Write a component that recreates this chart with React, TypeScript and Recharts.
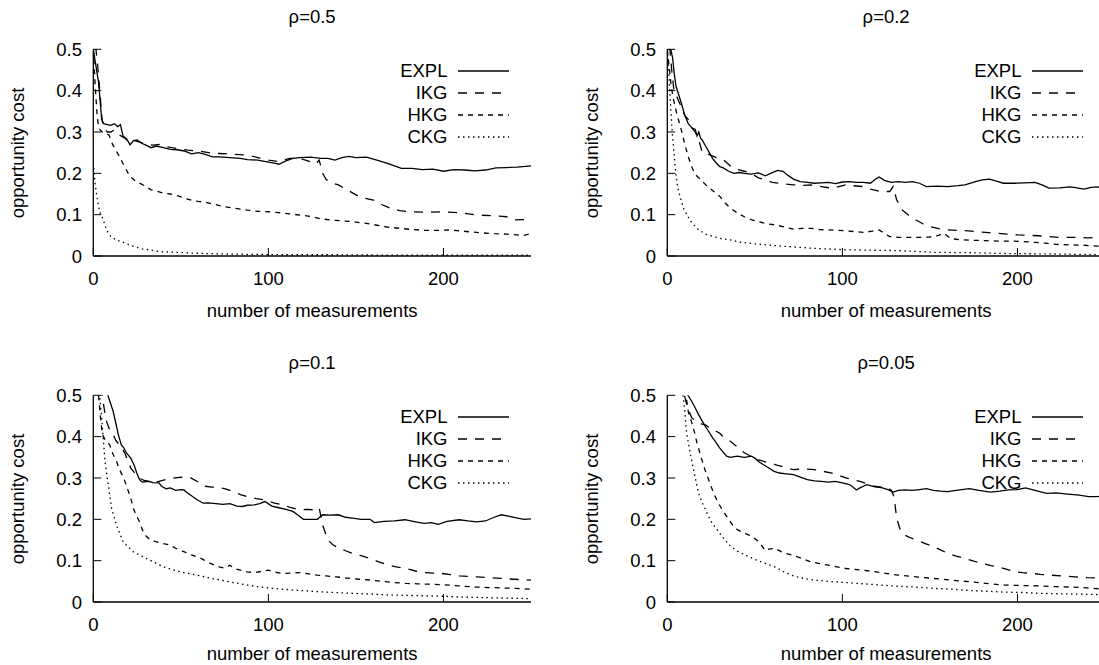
import { LineChart, Line, XAxis, YAxis, Legend } from "recharts";

const FONT = '"Liberation Sans", Arial, Helvetica, sans-serif';

const xTicks = [0, 100, 200];
const yTicks = [0, 0.1, 0.2, 0.3, 0.4, 0.5];
const seriesNames = ["EXPL", "IKG", "HKG", "CKG"];
const panelTitles = ["ρ=0.5", "ρ=0.2", "ρ=0.1", "ρ=0.05"];
const xLabel = "number of measurements";
const yLabel = "opportunity cost";

// [measurements, opportunity cost]
const rho05Expl = [[0,0.5],[1.5,0.46],[3,0.42],[4.8,0.33],[6,0.32],[8,0.318],[10,0.316],[12,0.32],[14,0.313],[15.5,0.318],[17,0.29],[19,0.283],[21,0.269],[23,0.279],[25,0.281],[28,0.272],[30,0.268],[33,0.262],[36,0.266],[40,0.262],[44,0.258],[48,0.257],[52,0.254],[56,0.247],[60,0.25],[64,0.246],[68,0.24],[72,0.24],[78,0.238],[84,0.236],[88,0.233],[94,0.232],[100,0.227],[104,0.224],[106,0.222],[110,0.23],[114,0.236],[118,0.238],[124,0.239],[130,0.236],[134,0.236],[138,0.232],[142,0.238],[146,0.241],[150,0.238],[156,0.239],[162,0.232],[168,0.224],[172,0.218],[176,0.212],[182,0.212],[188,0.209],[194,0.21],[200,0.205],[206,0.209],[212,0.208],[218,0.206],[224,0.208],[230,0.213],[236,0.214],[242,0.215],[250,0.218]];
const rho05Ikg = [[0,0.5],[1.5,0.5],[2.5,0.46],[3.8,0.395],[5,0.33],[6,0.31],[8,0.3],[10,0.3],[12,0.305],[14,0.295],[16,0.29],[18,0.285],[20,0.278],[23,0.28],[26,0.276],[30,0.27],[34,0.268],[38,0.27],[42,0.264],[48,0.26],[54,0.256],[60,0.254],[66,0.25],[72,0.248],[80,0.246],[88,0.244],[94,0.238],[100,0.232],[106,0.228],[112,0.236],[118,0.236],[124,0.228],[127,0.222],[129,0.232],[131,0.2],[133,0.185],[137,0.176],[140,0.172],[145,0.16],[150,0.148],[155,0.14],[160,0.135],[165,0.124],[170,0.115],[175,0.11],[180,0.107],[190,0.106],[200,0.107],[210,0.104],[220,0.099],[230,0.097],[236,0.095],[240,0.087],[245,0.088],[250,0.088]];
const rho05Hkg = [[0,0.5],[1,0.42],[2,0.35],[3,0.31],[5,0.3],[7,0.298],[9,0.292],[11,0.27],[13,0.255],[15,0.24],[18,0.215],[21,0.192],[24,0.182],[27,0.175],[30,0.168],[33,0.16],[36,0.157],[40,0.152],[44,0.15],[48,0.146],[52,0.14],[56,0.135],[60,0.132],[64,0.13],[68,0.126],[74,0.12],[80,0.116],[88,0.111],[94,0.108],[100,0.107],[106,0.105],[112,0.102],[118,0.099],[124,0.096],[130,0.09],[136,0.087],[142,0.085],[148,0.083],[154,0.08],[160,0.076],[168,0.07],[175,0.067],[182,0.064],[189,0.062],[196,0.062],[203,0.063],[209,0.061],[216,0.058],[222,0.056],[229,0.054],[236,0.053],[242,0.051],[246,0.05],[250,0.054]];
const rho05Ckg = [[0,0.225],[1,0.177],[2,0.145],[3,0.12],[4,0.103],[5.5,0.09],[7,0.07],[8.5,0.056],[10,0.047],[13,0.039],[16,0.035],[20,0.028],[24,0.022],[28,0.017],[32,0.015],[36,0.012],[40,0.01],[48,0.009],[56,0.007],[64,0.006],[75,0.005],[90,0.004],[110,0.003],[140,0.003],[170,0.002],[200,0.002],[250,0.002]];

const rho02Expl = [[0,0.5],[2,0.5],[3,0.48],[4,0.44],[5,0.41],[6.5,0.39],[8,0.37],[10,0.34],[12,0.32],[14,0.31],[16,0.306],[17,0.29],[18,0.3],[19,0.285],[20,0.28],[22,0.265],[24,0.25],[26,0.235],[28,0.225],[30,0.216],[32,0.213],[35,0.205],[38,0.2],[41,0.202],[44,0.2],[48,0.198],[52,0.201],[56,0.194],[59,0.2],[63,0.207],[66,0.205],[69,0.195],[72,0.186],[76,0.18],[80,0.178],[84,0.176],[88,0.177],[92,0.178],[96,0.175],[100,0.179],[104,0.18],[108,0.178],[112,0.178],[116,0.176],[119,0.186],[121,0.191],[124,0.183],[128,0.178],[132,0.18],[136,0.178],[140,0.18],[144,0.176],[148,0.168],[154,0.169],[160,0.168],[166,0.17],[170,0.172],[176,0.18],[180,0.184],[184,0.186],[188,0.181],[192,0.176],[198,0.176],[204,0.177],[210,0.178],[214,0.172],[218,0.164],[224,0.165],[230,0.167],[234,0.165],[238,0.162],[242,0.166],[246,0.167],[250,0.165]];
const rho02Ikg = [[0,0.5],[1.5,0.5],[2.5,0.45],[3.8,0.4],[6,0.38],[8,0.36],[10,0.34],[12,0.33],[14,0.31],[16,0.3],[18,0.28],[20,0.25],[24,0.245],[28,0.238],[32,0.233],[36,0.218],[40,0.209],[44,0.205],[48,0.2],[52,0.189],[56,0.184],[60,0.178],[66,0.175],[72,0.172],[78,0.171],[82,0.172],[88,0.168],[94,0.164],[98,0.168],[102,0.172],[106,0.17],[112,0.168],[116,0.162],[122,0.156],[127,0.156],[129,0.168],[131,0.136],[134,0.112],[138,0.098],[142,0.087],[146,0.078],[150,0.071],[155,0.066],[160,0.063],[166,0.062],[172,0.061],[178,0.058],[182,0.057],[188,0.055],[194,0.053],[200,0.051],[206,0.05],[212,0.049],[218,0.047],[224,0.045],[232,0.045],[240,0.044],[250,0.045]];
const rho02Hkg = [[0,0.5],[1,0.46],[2,0.42],[3,0.39],[4.5,0.36],[6,0.335],[8,0.305],[10,0.27],[12,0.24],[14,0.215],[16,0.197],[19,0.185],[22,0.172],[26,0.158],[30,0.144],[33,0.128],[36,0.116],[40,0.104],[44,0.095],[48,0.088],[52,0.083],[57,0.078],[62,0.075],[67,0.07],[72,0.065],[77,0.067],[82,0.067],[87,0.064],[92,0.063],[97,0.062],[102,0.061],[107,0.059],[112,0.057],[117,0.06],[121,0.063],[124,0.055],[127,0.047],[132,0.045],[138,0.045],[144,0.045],[150,0.046],[155,0.05],[158,0.055],[162,0.042],[168,0.039],[175,0.038],[182,0.037],[190,0.036],[197,0.036],[203,0.035],[210,0.033],[216,0.031],[222,0.028],[230,0.027],[238,0.026],[246,0.024],[250,0.022]];
const rho02Ckg = [[0,0.5],[0.7,0.46],[1.4,0.4],[2.1,0.35],[2.8,0.3],[3.8,0.25],[4.8,0.2],[6,0.165],[7.8,0.136],[9.5,0.113],[11.8,0.095],[14,0.08],[17.9,0.063],[22,0.053],[26,0.047],[31,0.042],[36,0.039],[41,0.034],[46,0.031],[54,0.028],[62,0.025],[72,0.022],[82,0.019],[92,0.017],[102,0.015],[117,0.014],[132,0.013],[142,0.011],[152,0.009],[172,0.008],[193,0.006],[220,0.005],[250,0.003]];

const rho01Expl = [[0,0.62],[4,0.58],[8.3,0.5],[11.3,0.462],[13,0.43],[14.3,0.405],[16,0.38],[17.4,0.373],[19,0.36],[21.4,0.348],[23.4,0.33],[25,0.31],[26.4,0.296],[28,0.29],[31.5,0.292],[34,0.289],[37.5,0.288],[39,0.28],[41.6,0.274],[44,0.276],[47,0.27],[50,0.272],[51.7,0.271],[54,0.263],[56.7,0.255],[59,0.248],[62.8,0.239],[66,0.24],[70,0.238],[74,0.236],[78,0.238],[82,0.232],[85,0.231],[88,0.234],[92,0.235],[95,0.238],[98,0.243],[102,0.232],[106,0.228],[110,0.224],[114,0.219],[117,0.21],[120,0.2],[124,0.2],[128,0.2],[131,0.211],[135,0.21],[140,0.211],[144,0.205],[148,0.203],[153,0.2],[158,0.2],[160.6,0.192],[166,0.195],[172,0.196],[178,0.199],[184,0.194],[189,0.19],[193,0.192],[197,0.188],[202,0.195],[209,0.199],[214,0.196],[219,0.194],[224,0.196],[229,0.205],[233,0.211],[237,0.208],[241,0.204],[246,0.2],[250,0.201]];
const rho01Ikg = [[0,0.6],[3,0.55],[5,0.5],[7.3,0.44],[9,0.42],[11.3,0.405],[13,0.39],[16.3,0.373],[18,0.36],[21.4,0.324],[24,0.31],[26.4,0.3],[29,0.294],[31.5,0.292],[35,0.29],[37.5,0.292],[42,0.297],[47.6,0.301],[52,0.302],[55.7,0.3],[60,0.29],[63.8,0.28],[68,0.278],[71.8,0.277],[76,0.273],[80,0.267],[84,0.26],[88,0.255],[93,0.25],[98,0.247],[103,0.24],[108,0.235],[113,0.228],[118,0.223],[122,0.224],[126,0.223],[129,0.228],[131,0.186],[134,0.15],[137,0.138],[140.5,0.13],[144,0.124],[148.5,0.117],[153,0.112],[158.6,0.105],[163,0.097],[168.7,0.089],[173,0.085],[178.8,0.081],[184,0.075],[189,0.071],[194,0.07],[199,0.069],[204,0.066],[209,0.063],[214,0.062],[219,0.061],[226,0.059],[233,0.057],[240,0.055],[245,0.054],[250,0.053]];
const rho01Hkg = [[0,0.62],[2,0.55],[3,0.5],[4,0.45],[5.2,0.405],[7,0.39],[9.3,0.381],[11,0.36],[13.3,0.34],[15,0.32],[17.4,0.3],[19.4,0.275],[21.4,0.251],[23,0.225],[24.5,0.21],[26.4,0.194],[28,0.175],[29.5,0.162],[32,0.152],[35.5,0.146],[39,0.142],[43.6,0.138],[47,0.13],[51.7,0.122],[56,0.114],[61.8,0.105],[66,0.095],[70,0.088],[71.8,0.085],[75,0.082],[78,0.089],[81,0.08],[84,0.077],[88,0.073],[92,0.071],[96,0.074],[100,0.077],[104,0.072],[108,0.069],[113,0.07],[118,0.071],[123,0.068],[128,0.065],[133,0.063],[138.4,0.061],[145,0.058],[152,0.055],[158.6,0.053],[165,0.05],[172,0.047],[178.8,0.045],[185,0.044],[192,0.043],[199,0.042],[206,0.04],[212,0.038],[219,0.036],[226,0.035],[233,0.034],[241,0.033],[250,0.031]];
const rho01Ckg = [[0,0.65],[3,0.55],[3.8,0.49],[4.8,0.443],[5.7,0.395],[6.7,0.339],[8.6,0.282],[10.5,0.226],[13.3,0.185],[17.1,0.145],[22.9,0.121],[30.5,0.105],[40,0.085],[49.5,0.073],[59,0.065],[67.8,0.057],[74,0.052],[80,0.047],[88,0.041],[94,0.037],[100,0.034],[108,0.031],[118,0.028],[128,0.025],[138.4,0.023],[148,0.021],[158.6,0.019],[168,0.017],[178.8,0.016],[189,0.015],[199,0.014],[209,0.012],[219,0.011],[230,0.01],[240,0.009],[250,0.008]];

const rho005Expl = [[0,0.75],[6,0.62],[10,0.53],[11.8,0.5],[14,0.485],[15.9,0.47],[18,0.452],[19.9,0.438],[22,0.423],[24,0.41],[25.9,0.397],[28,0.385],[29.9,0.373],[32,0.362],[33.9,0.353],[36,0.35],[40,0.353],[44,0.35],[48,0.353],[50,0.348],[52,0.34],[55,0.332],[58,0.324],[61,0.316],[64,0.312],[68,0.31],[72,0.308],[76,0.302],[80,0.296],[84,0.293],[88,0.292],[92,0.29],[96,0.292],[100,0.288],[104,0.284],[106,0.278],[108,0.271],[110,0.276],[112,0.28],[114,0.284],[118,0.279],[122,0.277],[126,0.272],[129,0.266],[132,0.27],[136,0.271],[140,0.27],[144,0.272],[148,0.274],[152,0.27],[156,0.268],[160,0.267],[165,0.27],[172.5,0.274],[178,0.27],[184.5,0.266],[190,0.268],[194.6,0.271],[200,0.272],[204.6,0.276],[210,0.27],[216.7,0.263],[222,0.264],[228.7,0.261],[234,0.259],[240.8,0.255],[246,0.255],[250,0.257]];
const rho005Ikg = [[0,0.7],[5,0.6],[8,0.53],[9.8,0.5],[11.5,0.47],[13.9,0.446],[16,0.438],[19.9,0.43],[22,0.428],[25,0.418],[27.9,0.413],[30,0.408],[33,0.395],[36,0.389],[40,0.375],[44,0.361],[48,0.352],[52,0.344],[57,0.338],[62,0.332],[67,0.326],[72,0.32],[78,0.322],[84,0.32],[89,0.316],[94,0.312],[98,0.306],[102,0.3],[106,0.296],[110,0.292],[114,0.286],[118,0.28],[122,0.278],[126,0.276],[128,0.27],[129.5,0.255],[131,0.203],[133,0.175],[135,0.163],[138,0.157],[142,0.15],[147,0.142],[152,0.134],[156,0.126],[160,0.118],[165,0.111],[170,0.105],[175,0.099],[180.5,0.093],[185,0.088],[188.6,0.085],[193,0.08],[198.6,0.073],[203,0.071],[208.6,0.069],[213,0.067],[218.7,0.065],[225,0.063],[232.7,0.061],[240,0.059],[246,0.058],[250,0.057]];
const rho005Hkg = [[0,0.8],[6,0.6],[9,0.53],[11,0.49],[12,0.46],[13.9,0.435],[15.9,0.405],[16.8,0.387],[19.6,0.346],[21.5,0.32],[23.4,0.298],[26.3,0.265],[29,0.24],[32,0.219],[35,0.2],[37.7,0.184],[40,0.175],[43.4,0.168],[46,0.163],[48,0.16],[51,0.15],[54,0.136],[56,0.124],[58,0.128],[61.5,0.13],[65,0.122],[68,0.117],[72,0.113],[77,0.105],[82,0.097],[87,0.093],[92,0.089],[97,0.085],[102,0.081],[107,0.079],[112,0.077],[117,0.074],[122,0.071],[127,0.068],[132,0.065],[142,0.061],[152,0.057],[162,0.053],[172.5,0.049],[182,0.045],[192.6,0.041],[200,0.04],[212.7,0.039],[222,0.037],[232.7,0.036],[240,0.034],[246,0.032],[250,0.031]];
const rho005Ckg = [[0,0.8],[5,0.62],[8,0.53],[9.1,0.496],[10,0.46],[11,0.41],[13,0.362],[14.9,0.322],[17.7,0.265],[20,0.24],[22.5,0.217],[25,0.195],[28.2,0.176],[32,0.155],[35.8,0.136],[40,0.123],[45.3,0.112],[50,0.103],[54.9,0.095],[58,0.09],[62.5,0.083],[67,0.072],[72,0.063],[78,0.057],[84,0.053],[92,0.05],[102,0.047],[112,0.044],[122,0.041],[132,0.038],[142,0.036],[152,0.033],[162.5,0.031],[172,0.028],[182.5,0.026],[192,0.024],[202.6,0.023],[212,0.021],[222.7,0.02],[234,0.019],[246,0.018],[250,0.018]];

const panels = [
  { title: panelTitles[0], left: 0, top: 0, labelY: 310.7, series: [rho05Expl, rho05Ikg, rho05Hkg, rho05Ckg] },
  { title: panelTitles[1], left: 574, top: 0, labelY: 310.7, series: [rho02Expl, rho02Ikg, rho02Hkg, rho02Ckg] },
  { title: panelTitles[2], left: 0, top: 346, labelY: 307.5, series: [rho01Expl, rho01Ikg, rho01Hkg, rho01Ckg] },
  { title: panelTitles[3], left: 574, top: 346, labelY: 307.5, series: [rho005Expl, rho005Ikg, rho005Hkg, rho005Ckg] },
];

const dashes = [undefined, "9 8", "5 5", "1.5 3.5"];
const FS = 18.5;
const W = 550;
const H = 335;
const PLOT_L = 93.3;
const PLOT_R = 531;
const PLOT_T = 49.3;
const PLOT_B = 256;
const CX = (PLOT_L + PLOT_R) / 2;

const axisLine = { stroke: "#000", strokeWidth: 1.3 };
const tickLine = { stroke: "#000", strokeWidth: 1 };
const tickText = { fill: "#000", fontSize: FS, fontFamily: FONT };

function LegendBox() {
  return (
    <div style={{ fontFamily: FONT, fontSize: FS, color: "#000" }}>
      {seriesNames.map((name, i) => (
        <div key={name} style={{ display: "flex", alignItems: "center", height: 22 }}>
          <span style={{ width: 117.5, textAlign: "right", lineHeight: "22px" }}>{name}</span>
          <svg width={51} height={22} style={{ marginLeft: 10 }}>
            <line x1={0} x2={51} y1={11} y2={11} stroke="#000" strokeWidth={1.3} strokeDasharray={dashes[i]} />
          </svg>
        </div>
      ))}
    </div>
  );
}

// text centred on (x, y)
function TextAt({ x, y, text, rotate }: { x: number; y: number; text: string; rotate?: boolean }) {
  return (
    <div
      style={{
        position: "absolute",
        left: x - 150,
        top: y - 7,
        width: 300,
        height: 14,
        lineHeight: "14px",
        textAlign: "center",
        fontFamily: FONT,
        fontSize: FS,
        color: "#000",
        whiteSpace: "nowrap",
        transform: rotate ? "rotate(-90deg)" : undefined,
      }}
    >
      {text}
    </div>
  );
}

function Panel({ title, left, top, labelY, series }: { title: string; left: number; top: number; labelY: number; series: number[][][] }) {
  return (
    <div style={{ position: "absolute", left, top, width: W, height: H }}>
      <LineChart
        width={W}
        height={H}
        margin={{ top: PLOT_T, right: W - PLOT_R, bottom: H - PLOT_B - 30, left: PLOT_L - 60 }}
      >
        <XAxis
          xAxisId="b"
          type="number"
          dataKey="x"
          domain={[0, 250]}
          ticks={xTicks}
          allowDataOverflow
          interval={0}
          height={30}
          tickSize={-8}
          tickMargin={24}
          tick={tickText}
          axisLine={axisLine}
          tickLine={tickLine}
        />
        <XAxis
          xAxisId="t"
          orientation="top"
          type="number"
          dataKey="x"
          domain={[0, 250]}
          ticks={xTicks}
          allowDataOverflow
          interval={0}
          height={0}
          tickSize={-8}
          tick={false}
          axisLine={axisLine}
          tickLine={tickLine}
        />
        <YAxis
          yAxisId="l"
          type="number"
          domain={[0, 0.5]}
          ticks={yTicks}
          allowDataOverflow
          interval={0}
          width={60}
          tickSize={-8}
          tickMargin={19.3}
          tick={tickText}
          axisLine={axisLine}
          tickLine={tickLine}
        />
        <YAxis
          yAxisId="r"
          orientation="right"
          type="number"
          domain={[0, 0.5]}
          ticks={yTicks}
          allowDataOverflow
          interval={0}
          width={0}
          tickSize={-8}
          tick={false}
          axisLine={axisLine}
          tickLine={tickLine}
        />
        {series.map((pts, i) => (
          <Line
            key={seriesNames[i]}
            xAxisId="b"
            yAxisId="l"
            data={pts.map(([x, y]) => ({ x, y }))}
            dataKey="y"
            type="linear"
            stroke="#000"
            strokeWidth={1.3}
            strokeDasharray={dashes[i]}
            dot={false}
            activeDot={false}
            isAnimationActive={false}
          />
        ))}
        <Legend
          layout="vertical"
          align="center"
          verticalAlign="middle"
          wrapperStyle={{ left: 330, top: 59.5, width: 190 }}
          content={() => <LegendBox />}
        />
      </LineChart>
      <TextAt x={CX} y={17} text={title} />
      <TextAt x={CX} y={labelY} text={xLabel} />
      <TextAt x={18} y={(PLOT_T + PLOT_B) / 2} text={yLabel} rotate />
    </div>
  );
}

export default function App() {
  return (
    <div
      style={{
        position: "absolute",
        left: 0,
        top: 0,
        width: 1099,
        height: 665,
        overflow: "hidden",
        background: "#fff",
      }}
    >
      {panels.map((p) => (
        <Panel key={p.title} title={p.title} left={p.left} top={p.top} labelY={p.labelY} series={p.series} />
      ))}
    </div>
  );
}
